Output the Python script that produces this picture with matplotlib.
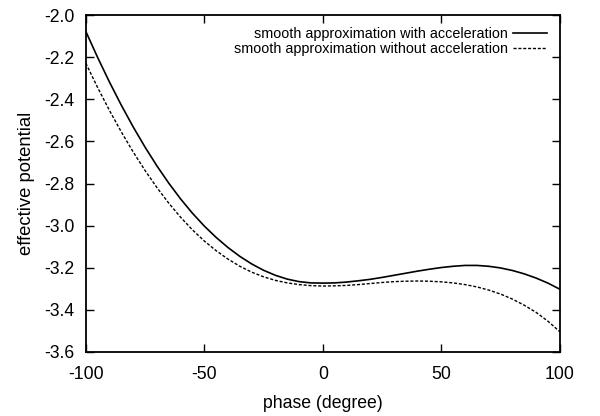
import matplotlib
matplotlib.use("Agg")
import matplotlib.pyplot as plt

plt.rcParams['font.family'] = ['Liberation Sans', 'DejaVu Sans']
plt.rcParams['axes.unicode_minus'] = False

# phase in degrees, every 5 degrees
phase = [-100, -95, -90, -85, -80, -75, -70, -65, -60, -55, -50,
         -45, -40, -35, -30, -25, -20, -15, -10, -5, 0,
         5, 10, 15, 20, 25, 30, 35, 40, 45, 50,
         55, 60, 65, 70, 75, 80, 85, 90, 95, 100]

with_acc = [-2.077, -2.201, -2.318, -2.428, -2.531, -2.627, -2.716, -2.798, -2.873, -2.941, -3.002,
            -3.056, -3.104, -3.146, -3.182, -3.212, -3.236, -3.254, -3.266, -3.272, -3.273,
            -3.272, -3.268, -3.262, -3.255, -3.246, -3.236, -3.226, -3.216, -3.207, -3.199,
            -3.193, -3.189, -3.189, -3.193, -3.201, -3.213, -3.229, -3.249, -3.273, -3.302]

without_acc = [-2.228, -2.344, -2.453, -2.555, -2.650, -2.738, -2.819, -2.893, -2.960, -3.020, -3.073,
               -3.119, -3.159, -3.193, -3.221, -3.243, -3.260, -3.272, -3.280, -3.285, -3.287,
               -3.286, -3.284, -3.280, -3.275, -3.270, -3.266, -3.264, -3.263, -3.264, -3.267,
               -3.272, -3.280, -3.291, -3.306, -3.325, -3.349, -3.378, -3.412, -3.454, -3.504]

xticks = [-100, -50, 0, 50, 100]
yticks = [-3.6, -3.4, -3.2, -3.0, -2.8, -2.6, -2.4, -2.2, -2.0]

fig = plt.figure(figsize=(6, 4.16), dpi=100)
ax = fig.add_axes([0.143, 0.154, 0.790, 0.8095])

ax.plot(phase, with_acc, color='black', lw=1.2,
        label='smooth approximation with acceleration')
ax.plot(phase, without_acc, color='black', lw=1.0, linestyle=(0, (2.2, 1.3)),
        label='smooth approximation without acceleration')

ax.set_xlim(-100, 100)
ax.set_ylim(-3.6, -2.0)
ax.set_xticks(xticks)
ax.set_yticks(yticks)
ax.set_yticklabels(['%.1f' % v for v in yticks])
ax.tick_params(direction='in', length=6, width=1, top=True, right=True,
               labelsize=12.7)
ax.tick_params(axis='x', pad=10)
ax.tick_params(axis='y', pad=8)
for s in ax.spines.values():
    s.set_linewidth(1.3)

ax.set_xlabel('phase (degree)', fontsize=12.7, labelpad=9)
ax.set_ylabel('effective potential', fontsize=13.3, labelpad=7)

ax.legend(loc='upper right', frameon=False, markerfirst=False, fontsize=10.4,
          handlelength=2.4, handletextpad=0.35, labelspacing=0.1,
          borderaxespad=0.3, bbox_to_anchor=(0.995, 0.995))

fig.savefig('out.png', dpi=100)
